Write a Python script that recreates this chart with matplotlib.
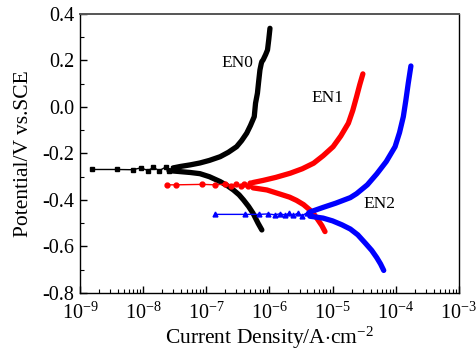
import matplotlib
matplotlib.use("Agg")
import matplotlib.pyplot as plt
from matplotlib.ticker import (LogLocator, MultipleLocator, FixedLocator, LogFormatterMathtext,
                               FormatStrFormatter, NullFormatter)

plt.rcParams["font.family"] = ["Liberation Serif", "DejaVu Serif"]
plt.rcParams["mathtext.fontset"] = "custom"
plt.rcParams["mathtext.rm"] = "Liberation Serif"
plt.rcParams["mathtext.it"] = "Liberation Serif:italic"
plt.rcParams["axes.unicode_minus"] = False

x_ticks = [1e-9, 1e-8, 1e-7, 1e-6, 1e-5, 1e-4, 1e-3]

# EN0 (black): points near Ecorr, anodic branch, cathodic branch
en0_pts_i = [1.55e-9, 3.8e-9, 6.8e-9, 9.3e-9, 1.2e-8, 1.45e-8, 1.8e-8, 2.3e-8, 2.6e-8, 3.0e-8]
en0_pts_e = [-0.269, -0.269, -0.270, -0.262, -0.274, -0.260, -0.274, -0.258, -0.275, -0.262]
en0_an_i = [3.02e-8, 3.89e-8, 5.62e-8, 7.94e-8, 1.12e-7, 1.66e-7, 2.24e-7, 3.02e-7, 3.63e-7,
            4.37e-7, 5.01e-7, 5.75e-7, 6.03e-7, 6.46e-7, 6.76e-7, 7.08e-7, 7.41e-7, 7.59e-7,
            7.94e-7, 8.71e-7, 9.33e-7, 9.77e-7, 1.02e-6]
en0_an_e = [-0.262, -0.256, -0.249, -0.241, -0.230, -0.214, -0.195, -0.171, -0.145,
            -0.113, -0.080, -0.042, 0.016, 0.059, 0.110, 0.159, 0.185, 0.195,
            0.202, 0.225, 0.245, 0.290, 0.338]
en0_ca_i = [2.57e-8, 3.80e-8, 5.62e-8, 7.94e-8, 1.12e-7, 1.66e-7, 2.19e-7, 2.69e-7,
            3.31e-7, 3.89e-7, 4.68e-7, 5.50e-7, 6.61e-7, 7.59e-7]
en0_ca_e = [-0.274, -0.278, -0.282, -0.287, -0.300, -0.321, -0.340, -0.357,
            -0.378, -0.400, -0.428, -0.457, -0.500, -0.529]

# EN1 (red)
en1_pts_i = [2.35e-8, 3.3e-8, 8.7e-8, 1.38e-7, 2.0e-7, 2.5e-7, 3.0e-7, 3.5e-7, 4.0e-7, 4.5e-7, 5.0e-7]
en1_pts_e = [-0.335, -0.335, -0.333, -0.335, -0.332, -0.338, -0.331, -0.339, -0.330, -0.340, -0.329]
en1_an_i = [5.50e-7, 7.94e-7, 1.26e-6, 2.14e-6, 3.31e-6, 5.01e-6, 7.08e-6, 1.02e-5,
            1.35e-5, 1.78e-5, 2.09e-5, 2.40e-5, 2.69e-5, 3.02e-5]
en1_an_e = [-0.325, -0.316, -0.303, -0.285, -0.266, -0.242, -0.210, -0.171,
            -0.125, -0.070, -0.015, 0.044, 0.095, 0.142]
en1_ca_i = [5.50e-7, 9.12e-7, 1.48e-6, 2.09e-6, 2.69e-6, 3.47e-6, 4.37e-6, 5.13e-6,
            5.89e-6, 6.76e-6, 7.59e-6]
en1_ca_e = [-0.348, -0.357, -0.375, -0.388, -0.402, -0.420, -0.443, -0.463,
            -0.486, -0.510, -0.536]

# EN2 (blue)
en2_pts_i = [1.38e-7, 4.1e-7, 6.9e-7, 9.5e-7, 1.23e-6, 1.48e-6, 1.78e-6, 2.04e-6,
             2.4e-6, 2.8e-6, 3.3e-6, 3.9e-6]
en2_pts_e = [-0.462, -0.462, -0.462, -0.460, -0.464, -0.459, -0.465, -0.458,
             -0.466, -0.457, -0.467, -0.456]
en2_an_i = [4.37e-6, 7.08e-6, 1.12e-5, 1.91e-5, 2.40e-5, 3.55e-5, 5.01e-5, 7.08e-5,
            9.77e-5, 1.15e-4, 1.32e-4, 1.45e-4, 1.58e-4, 1.74e-4]
en2_an_e = [-0.452, -0.432, -0.414, -0.390, -0.373, -0.335, -0.288, -0.235,
            -0.171, -0.110, -0.042, 0.030, 0.102, 0.176]
en2_ca_i = [4.37e-6, 7.08e-6, 1.00e-5, 1.41e-5, 1.91e-5, 2.51e-5, 3.31e-5, 4.17e-5,
            5.01e-5, 5.75e-5, 6.46e-5]
en2_ca_e = [-0.470, -0.478, -0.490, -0.507, -0.525, -0.550, -0.586, -0.617,
            -0.648, -0.675, -0.703]

curves = [
    ("black", "s", en0_pts_i, en0_pts_e, en0_an_i, en0_an_e, en0_ca_i, en0_ca_e),
    ("red", "o", en1_pts_i, en1_pts_e, en1_an_i, en1_an_e, en1_ca_i, en1_ca_e),
    ("blue", "^", en2_pts_i, en2_pts_e, en2_an_i, en2_an_e, en2_ca_i, en2_ca_e),
]

fig = plt.figure(figsize=(4.76, 3.56), dpi=100)
ax = fig.add_axes([0.168, 0.177, 0.796, 0.784])

for color, marker, pi, pe, ai, ae, ci, ce in curves:
    ax.plot(pi, pe, color=color, lw=1.0, marker=marker, ms=3.5, mec=color, mfc=color)
    ax.plot(ai, ae, color=color, lw=3.8, solid_capstyle="round", solid_joinstyle="round")
    ax.plot(ci, ce, color=color, lw=3.8, solid_capstyle="round", solid_joinstyle="round")

ax.text(3.06e-7, 0.19, "EN0", fontsize=12.5, ha="center", va="center")
ax.text(8.45e-6, 0.039, "EN1", fontsize=12.5, ha="center", va="center")
ax.text(5.6e-5, -0.416, "EN2", fontsize=12.5, ha="center", va="center")

ax.set_xscale("log")
ax.set_xlim(1e-9, 1e-3)
ax.set_ylim(-0.8, 0.4)
ax.xaxis.set_major_locator(FixedLocator(x_ticks))
ax.xaxis.set_minor_locator(LogLocator(base=10, subs=range(2, 10), numticks=20))
ax.xaxis.set_major_formatter(LogFormatterMathtext())
ax.xaxis.set_minor_formatter(NullFormatter())
ax.yaxis.set_major_locator(MultipleLocator(0.2))
ax.yaxis.set_minor_locator(MultipleLocator(0.1))
ax.yaxis.set_major_formatter(FormatStrFormatter("%.1f"))

ax.tick_params(which="both", direction="in", top=False, right=False, labelsize=14.5)
ax.tick_params(which="major", length=5, width=1)
ax.tick_params(which="minor", length=3, width=0.8)
ax.tick_params(axis="x", pad=7)
ax.tick_params(axis="y", pad=4)
for side in ["left", "bottom", "right"]:
    ax.spines[side].set_linewidth(1.0)
ax.spines["top"].set_color("#555555")
ax.spines["top"].set_linewidth(1.4)

ax.set_xlabel("Current Density/A$\\cdot$cm$^{-2}$", fontsize=15.5, labelpad=1)
ax.set_ylabel("Potential/V vs.SCE", fontsize=15.5, labelpad=7)

fig.savefig("out.png", dpi=100)
